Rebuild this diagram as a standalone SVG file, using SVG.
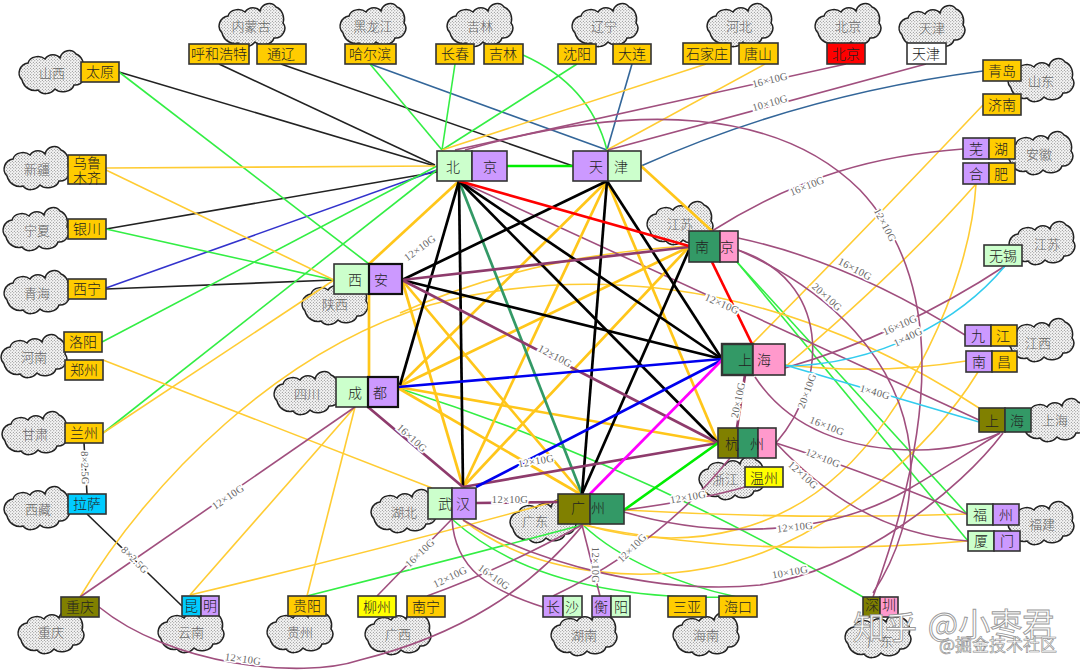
<svg xmlns="http://www.w3.org/2000/svg" xmlns:xlink="http://www.w3.org/1999/xlink" width="1080" height="670" viewBox="0 0 1080 670">
<style>
text{font-family:"Noto Sans CJK SC","Liberation Serif",serif;text-anchor:middle;dominant-baseline:central}
.n text{font-size:14px;fill:#222;font-weight:300}
.r text{font-size:13px;fill:#666;font-weight:300}
.n rect{stroke:#333;stroke-width:1.6}
.or{fill:#FFCC00}.gr{fill:#CCFFCC}.pu{fill:#CC99FF}.dg{fill:#339966}.pk{fill:#FF99CC}.ol{fill:#808000}.cy{fill:#00CCFF}.ye{fill:#FFFF00}.re{fill:#FF0000}.wh{fill:#FFFFFF}
#conn path{fill:none}
.t1{stroke-width:1.6}.t3{stroke-width:2.7}
.k{stroke:#222}.k3{stroke:#000}.g{stroke:#33EE44}.g3{stroke:#00EE00}.o{stroke:#FFCC33}.o3{stroke:#FFC61A}.p{stroke:#A04F7E}.p3{stroke:#8E3B6C}.b{stroke:#3333CC}.b3{stroke:#0000EE}.d{stroke:#336699}.c{stroke:#33CCEE}.tl{stroke:#339966}.rd{stroke:#FF0000}.m{stroke:#FF00FF}
.l text{font-family:"Liberation Serif",serif;font-size:10.5px;fill:#666;stroke:#fff;stroke-width:3;paint-order:stroke;letter-spacing:.3px}
.wm{font-size:32px;fill:#fff;stroke:#999;stroke-width:.9}
.wm2{font-size:17px;fill:#fff;stroke:#888;stroke-width:.6}
</style>
<defs>
<pattern id="dots" width="3" height="3" patternUnits="userSpaceOnUse">
<rect width="3" height="3" fill="#f7f7f7"/><circle cx=".8" cy=".8" r=".5" fill="#666"/><circle cx="2.3" cy="2.3" r=".5" fill="#666"/>
</pattern>
<path id="cloud" d="M-30,8C-36,2 -32,-8 -24,-9C-22,-16 -12,-17 -7,-13C-3,-19 5,-18 8,-14C10,-22 20,-24 24,-18C30,-16 33,-8 31,-2C36,4 30,14 22,13C20,20 8,22 3,17C-2,23 -10,23 -14,18C-20,20 -28,16 -30,8Z" fill="url(#dots)" stroke="#222" stroke-width="1.5"/>
</defs>
<rect width="1080" height="670" fill="#fff"/>

<g id="regions" class="r">
<g id="r-neimenggu"><use href="#cloud" x="252" y="25"/><text x="251" y="25">内蒙古</text></g>
<g id="r-heilongjiang"><use href="#cloud" x="373" y="25"/><text x="373" y="25">黑龙江</text></g>
<g id="r-jilin"><use href="#cloud" x="480" y="25"/><text x="480" y="25">吉林</text></g>
<g id="r-liaoning"><use href="#cloud" x="605" y="25"/><text x="604" y="25">辽宁</text></g>
<g id="r-hebei"><use href="#cloud" x="740" y="25"/><text x="739" y="25">河北</text></g>
<g id="r-beijing"><use href="#cloud" x="848" y="25"/><text x="848" y="25">北京</text></g>
<g id="r-tianjin"><use href="#cloud" x="932" y="27"/><text x="932" y="27">天津</text></g>
<g id="r-shandong"><use href="#cloud" x="1041" y="80"/><text x="1041" y="80">山东</text></g>
<g id="r-anhui"><use href="#cloud" x="1040" y="153"/><text x="1039" y="153">安徽</text></g>
<g id="r-jiangsu2"><use href="#cloud" x="1042" y="243"/><text x="1047" y="243">江苏</text></g>
<g id="r-jiangxi"><use href="#cloud" x="1041" y="340"/><text x="1038" y="342">江西</text></g>
<g id="r-shanghai"><use href="#cloud" x="1054" y="420"/><text x="1055" y="419">上海</text></g>
<g id="r-fujian"><use href="#cloud" x="1041" y="523"/><text x="1042" y="523">福建</text></g>
<g id="r-shanxi"><use href="#cloud" x="52" y="72"/><text x="52" y="72">山西</text></g>
<g id="r-xinjiang"><use href="#cloud" x="37" y="168"/><text x="37" y="168">新疆</text></g>
<g id="r-ningxia"><use href="#cloud" x="36" y="229"/><text x="37" y="229">宁夏</text></g>
<g id="r-qinghai"><use href="#cloud" x="37" y="292"/><text x="37" y="292">青海</text></g>
<g id="r-henan"><use href="#cloud" x="34" y="356"/><text x="34" y="356">河南</text></g>
<g id="r-gansu"><use href="#cloud" x="35" y="433"/><text x="35" y="433">甘肃</text></g>
<g id="r-xizang"><use href="#cloud" x="37" y="508"/><text x="38" y="508">西藏</text></g>
<g id="r-chongqing"><use href="#cloud" x="51" y="632"/><text x="51" y="631">重庆</text></g>
<g id="r-yunnan"><use href="#cloud" x="191" y="631"/><text x="191" y="631">云南</text></g>
<g id="r-guizhou"><use href="#cloud" x="300" y="631"/><text x="300" y="631">贵州</text></g>
<g id="r-guangxi"><use href="#cloud" x="398" y="633"/><text x="398" y="633">广西</text></g>
<g id="r-hunan"><use href="#cloud" x="584" y="634"/><text x="584" y="634">湖南</text></g>
<g id="r-hainan"><use href="#cloud" x="706" y="634"/><text x="706" y="634">海南</text></g>
<g id="r-hubei"><use href="#cloud" x="404" y="511"/><text x="404" y="511">湖北</text></g>
<g id="r-guangdong"><use href="#cloud" x="543" y="521"/><text x="535" y="520">广东</text></g>
<g id="r-sichuan"><use href="#cloud" x="307" y="393"/><text x="307" y="393">四川</text></g>
<g id="r-shaanxi"><use href="#cloud" x="335" y="303"/><text x="335" y="303">陕西</text></g>
<g id="r-jiangsu"><use href="#cloud" x="680" y="223"/><text x="680" y="223">江苏</text></g>
<g id="r-zhejiang"><use href="#cloud" x="732" y="478"/><text x="725" y="478">浙江</text></g>
<g id="r-guangdong2"><use href="#cloud" x="878" y="636"/><text x="880" y="640">广东</text></g>
</g>

<g id="conn">
<g class="t1">
<path class="k" d="M119,72L435,166"/><path class="k" d="M219,64L435,165"/><path class="k" d="M281,64L573,166"/><path class="k" d="M106,229L437,172"/><path class="k" d="M106,289L334,280"/><path class="k" d="M84,443L87,494"/><path class="k" d="M87,514L182,606"/>
<path class="b" d="M106,288L437,170"/>
<path class="d" d="M370,64L607,150"/><path class="d" d="M632,64L607,150"/><path class="d" d="M983,71Q800,95 641,166"/>
<path class="g" d="M119,72L369,264"/><path class="g" d="M370,64L442,150"/><path class="g" d="M455,64L442,150"/><path class="g" d="M577,64L442,150"/><path class="g" d="M523,55Q590,85 607,150"/><path class="g" d="M106,229L334,280"/><path class="g" d="M102,342L437,166"/><path class="g" d="M103,433L437,170"/>
<path class="g" d="M398,388Q640,465 863,597"/>
<path class="g" d="M307,596Q450,560 582,525"/>
<path class="g" d="M453,520C520,580 620,600 737,597"/>
<path class="g" d="M583,525C620,560 680,585 737,597"/>
<path class="g" d="M737,262L967,514"/><path class="g" d="M737,262L968,541"/>
<path class="o" d="M103,433L334,280"/><path class="o" d="M103,360L432,488"/><path class="o" d="M106,168L435,166"/><path class="o" d="M106,170L334,280"/>
<path class="o" d="M765,64L607,150"/><path class="o" d="M706,64L442,150"/>
<path class="o" d="M983,105Q860,235 752,344"/><path class="o" d="M976,184Q900,270 785,367"/>
<path class="o" d="M966,361Q880,375 785,365"/>
<path class="o" d="M80,597C150,480 280,350 430,305C560,270 760,265 979,408"/>
<path class="o" d="M400,313Q530,255 689,246"/>
<path class="o" d="M976,184C970,290 900,420 840,473C790,520 700,560 582,524"/>
<path class="o" d="M978,372C930,450 830,535 740,560C660,585 540,580 463,520"/>
<path class="o" d="M624,510Q800,520 967,514"/>
<path class="o" d="M583,525C680,545 800,555 968,541"/>
<path class="o" d="M190,595Q380,550 560,500"/><path class="o" d="M190,595L355,407"/><path class="o" d="M307,596L355,407"/>
<path class="p" d="M455,150L846,64"/><path class="p" d="M608,150L926,64"/>
<path class="p" d="M963,149C880,155 800,175 712,231"/>
<path class="p" d="M465,150C640,100 780,110 860,190C935,270 945,400 873,597"/>
<path class="p" d="M738,238Q850,262 965,335"/>
<path class="p" d="M738,250C830,290 900,360 910,450C915,510 895,560 873,593"/>
<path class="p" d="M738,250C830,280 830,380 776,443"/>
<path class="p" d="M459,181L979,420"/>
<path class="p" d="M1005,266Q900,335 785,368"/>
<path class="p" d="M755,377C790,430 850,450 917,450C950,450 980,442 1000,433"/>
<path class="p" d="M776,443Q860,470 967,514"/>
<path class="p" d="M776,443C820,490 880,535 968,541"/>
<path class="p" d="M624,512C720,540 830,535 907,490C950,465 980,445 1000,433"/>
<path class="p" d="M463,520C540,565 660,595 760,585C860,570 960,490 1003,433"/>
<path class="p" d="M99,607C170,665 300,680 360,660C460,635 530,590 583,525"/>
<path class="p" d="M80,597L355,407"/>
<path class="p" d="M377,596L452,519"/>
<path class="p" d="M427,596Q500,570 582,525"/>
<path class="p" d="M543,607C490,590 455,570 452,519"/>
<path class="p" d="M553,596Q660,545 730,458"/>
<path class="p" d="M624,510Q700,500 745,487"/>
<path class="p" d="M600,596L582,525"/>
<path class="c" d="M1005,266C960,320 880,365 785,366"/><path class="c" d="M785,365L979,422"/>
</g>
<g class="t3">
<path class="g3" d="M507,166L573,166"/>
<path class="o3" d="M459,181L369,264"/><path class="o3" d="M369,294L369,377"/><path class="o3" d="M641,166L712,231"/>
<path class="o3" d="M607,181L400,385"/><path class="o3" d="M607,181L463,487"/><path class="o3" d="M607,181L718,443"/>
<path class="o3" d="M402,280L463,487"/><path class="o3" d="M402,280L582,494"/>
<path class="o3" d="M398,387L689,247"/><path class="o3" d="M398,387L718,443"/><path class="o3" d="M398,388L580,494"/><path class="o3" d="M463,487L689,247"/>
<path class="tl" d="M459,181L582,494"/>
<path class="k3" d="M459,181L463,487"/><path class="k3" d="M459,181L400,385"/><path class="k3" d="M459,181L722,359"/><path class="k3" d="M459,181L718,443"/>
<path class="k3" d="M607,181L402,280"/><path class="k3" d="M607,181L582,494"/><path class="k3" d="M607,181L722,359"/><path class="k3" d="M402,280L722,359"/><path class="k3" d="M689,250L582,494"/>
<path class="p3" d="M402,280L689,247"/><path class="p3" d="M402,280L718,443"/><path class="p3" d="M463,487L718,443"/><path class="p3" d="M368,407L463,487"/><path class="p3" d="M476,503L558,502"/><path class="p3" d="M745,375L737,428"/>
<path class="rd" d="M459,181L689,246"/><path class="rd" d="M712,262L752,344"/>
<path class="b3" d="M398,387L722,359"/><path class="b3" d="M476,487L722,360"/>
<path class="m" d="M590,494L722,360"/>
<path class="g3" d="M624,510L718,443"/>
</g>
<g class="l">
<text transform="translate(770,80) rotate(-14)">16×10G</text>
<text transform="translate(770,103) rotate(-16)">10×10G</text>
<text transform="translate(807,186) rotate(-22)">16×10G</text>
<text transform="translate(885,225) rotate(62)">12×10G</text>
<text transform="translate(855,269) rotate(28)">16×10G</text>
<text transform="translate(827,297) rotate(42)">20×10G</text>
<text transform="translate(900,325) rotate(-24)">16×10G</text>
<text transform="translate(908,337) rotate(-26)">1×40G</text>
<text transform="translate(875,392) rotate(16)">1×40G</text>
<text transform="translate(807,391) rotate(-70)">20×10G</text>
<text transform="translate(827,426) rotate(22)">16×10G</text>
<text transform="translate(722,304) rotate(24)">12×10G</text>
<text transform="translate(420,248) rotate(-36)">12×10G</text>
<text transform="translate(555,356) rotate(28)">12×10G</text>
<text transform="translate(738,400) rotate(-78)">20×10G</text>
<text transform="translate(412,438) rotate(42)">16×10G</text>
<text transform="translate(536,461) rotate(-10)">12×10G</text>
<text transform="translate(510,499)">12×10G</text>
<text transform="translate(823,458) rotate(22)">12×10G</text>
<text transform="translate(803,475) rotate(42)">12×10G</text>
<text transform="translate(795,527) rotate(-6)">12×10G</text>
<text transform="translate(790,572) rotate(-10)">10×10G</text>
<text transform="translate(688,497) rotate(-10)">12×10G</text>
<text transform="translate(632,548) rotate(-45)">12×10G</text>
<text transform="translate(595,565) rotate(90)">12×10G</text>
<text transform="translate(494,577) rotate(36)">16×10G</text>
<text transform="translate(450,577) rotate(-26)">12×10G</text>
<text transform="translate(420,553) rotate(-44)">16×10G</text>
<text transform="translate(228,497) rotate(-34)">12×10G</text>
<text transform="translate(243,659) rotate(8)">12×10G</text>
<text transform="translate(85,468) rotate(88)">8×2.5G</text>
<text transform="translate(135,560) rotate(45)">8×2.5G</text>
</g>
</g>

<g id="nodes" class="n">
<g id="taiyuan"><rect class="or" x="81" y="62" width="38" height="20"/><text x="100" y="71">太原</text></g>
<g id="huhehaote"><rect class="or" x="189" y="44" width="60" height="20"/><text x="219" y="53">呼和浩特</text></g>
<g id="tongliao"><rect class="or" x="257" y="44" width="49" height="20"/><text x="281" y="53">通辽</text></g>
<g id="haerbin"><rect class="or" x="345" y="44" width="51" height="20"/><text x="370" y="53">哈尔滨</text></g>
<g id="changchun"><rect class="or" x="436" y="44" width="38" height="20"/><text x="455" y="53">长春</text></g>
<g id="jilin"><rect class="or" x="484" y="44" width="39" height="20"/><text x="503" y="53">吉林</text></g>
<g id="shenyang"><rect class="or" x="558" y="44" width="38" height="20"/><text x="577" y="53">沈阳</text></g>
<g id="dalian"><rect class="or" x="613" y="44" width="38" height="20"/><text x="632" y="53">大连</text></g>
<g id="shijiazhuang"><rect class="or" x="683" y="43" width="48" height="21"/><text x="707" y="53">石家庄</text></g>
<g id="tangshan"><rect class="or" x="739" y="43" width="39" height="21"/><text x="758" y="53">唐山</text></g>
<g id="beijing-node"><rect class="re" x="827" y="43" width="38" height="21"/><text x="846" y="53">北京</text></g>
<g id="tianjin-node"><rect class="wh" x="907" y="43" width="39" height="21"/><text x="926" y="53">天津</text></g>
<g id="qingdao"><rect class="or" x="983" y="60" width="38" height="21"/><text x="1002" y="70">青岛</text></g>
<g id="jinan"><rect class="or" x="983" y="94" width="38" height="21"/><text x="1002" y="104">济南</text></g>
<g id="wuhu"><rect class="pu" x="963" y="138" width="26" height="21"/><rect class="or" x="989" y="138" width="26" height="21"/><text x="976" y="148">芜</text><text x="1001" y="148">湖</text></g>
<g id="hefei"><rect class="pu" x="963" y="163" width="26" height="21"/><rect class="or" x="989" y="163" width="26" height="21"/><text x="976" y="173">合</text><text x="1001" y="173">肥</text></g>
<g id="wuxi"><rect class="gr" x="984" y="245" width="38" height="21"/><text x="1003" y="255">无锡</text></g>
<g id="jiujiang"><rect class="pu" x="965" y="325" width="26" height="21"/><rect class="or" x="991" y="325" width="26" height="21"/><text x="978" y="335">九</text><text x="1003" y="335">江</text></g>
<g id="nanchang"><rect class="pu" x="966" y="351" width="26" height="21"/><rect class="or" x="992" y="351" width="25" height="21"/><text x="979" y="361">南</text><text x="1004" y="361">昌</text></g>
<g id="shanghai-r"><rect class="ol" x="979" y="408" width="26" height="24"/><rect class="dg" x="1005" y="408" width="26" height="24"/><text x="992" y="420">上</text><text x="1017" y="420">海</text></g>
<g id="fuzhou"><rect class="gr" x="967" y="504" width="26" height="21"/><rect class="pu" x="993" y="504" width="26" height="21"/><text x="980" y="514">福</text><text x="1006" y="514">州</text></g>
<g id="xiamen"><rect class="gr" x="968" y="531" width="26" height="20"/><rect class="pu" x="994" y="531" width="26" height="20"/><text x="981" y="540">厦</text><text x="1007" y="540">门</text></g>
<g id="wenzhou"><rect class="ye" x="745" y="467" width="38" height="20"/><text x="764" y="477">温州</text></g>
<g id="shenzhen"><rect class="ol" x="863" y="597" width="17" height="20"/><rect class="pk" x="880" y="597" width="18" height="20"/><text x="872" y="604">深</text><text x="889" y="604">圳</text></g>
<g id="urumqi"><rect class="or" x="68" y="155" width="38" height="29"/><text x="87" y="162">乌鲁</text><text x="87" y="177">木齐</text></g>
<g id="yinchuan"><rect class="or" x="68" y="219" width="38" height="20"/><text x="87" y="228">银川</text></g>
<g id="xining"><rect class="or" x="68" y="279" width="38" height="20"/><text x="87" y="288">西宁</text></g>
<g id="luoyang"><rect class="or" x="64" y="332" width="38" height="20"/><text x="83" y="341">洛阳</text></g>
<g id="zhengzhou"><rect class="or" x="65" y="360" width="38" height="20"/><text x="84" y="369">郑州</text></g>
<g id="lanzhou"><rect class="or" x="65" y="423" width="38" height="20"/><text x="84" y="432">兰州</text></g>
<g id="lasa"><rect class="cy" x="68" y="494" width="38" height="20"/><text x="87" y="503">拉萨</text></g>
<g id="chongqing"><rect class="ol" x="61" y="597" width="38" height="20"/><text x="80" y="606">重庆</text></g>
<g id="kunming"><rect class="cy" x="182" y="596" width="19" height="20"/><rect class="pu" x="201" y="596" width="18" height="20"/><text x="191" y="605">昆</text><text x="210" y="605">明</text></g>
<g id="guiyang"><rect class="or" x="288" y="596" width="38" height="20"/><text x="307" y="605">贵阳</text></g>
<g id="liuzhou"><rect class="ye" x="358" y="596" width="38" height="21"/><text x="377" y="606">柳州</text></g>
<g id="nanning"><rect class="or" x="407" y="596" width="38" height="21"/><text x="426" y="606">南宁</text></g>
<g id="changsha"><rect class="pu" x="543" y="596" width="20" height="21"/><rect class="gr" x="563" y="596" width="19" height="21"/><text x="553" y="606">长</text><text x="572" y="606">沙</text></g>
<g id="hengyang"><rect class="pu" x="592" y="596" width="19" height="21"/><rect class="gr" x="611" y="596" width="19" height="21"/><text x="601" y="606">衡</text><text x="621" y="606">阳</text></g>
<g id="sanya"><rect class="or" x="668" y="596" width="38" height="21"/><text x="687" y="606">三亚</text></g>
<g id="haikou"><rect class="or" x="719" y="596" width="38" height="21"/><text x="738" y="606">海口</text></g>

<g id="beijing-hub"><rect class="gr" x="437" y="151" width="35" height="30"/><rect class="pu" x="472" y="151" width="35" height="30"/><text x="453" y="166">北</text><text x="490" y="166">京</text></g>
<g id="tianjin-hub"><rect class="pu" x="573" y="151" width="35" height="30"/><rect class="gr" x="608" y="151" width="33" height="30"/><text x="596" y="166">天</text><text x="621" y="166">津</text></g>
<g id="nanjing-hub"><rect class="dg" x="689" y="231" width="31" height="31"/><rect class="pk" x="720" y="231" width="18" height="31"/><text x="702" y="246">南</text><text x="727" y="246">京</text></g>
<g id="shanghai-hub"><rect class="dg" x="722" y="344" width="31" height="31" style="stroke-width:2.4"/><rect class="pk" x="753" y="344" width="32" height="31"/><text x="745" y="359">上</text><text x="764" y="359">海</text></g>
<g id="hangzhou-hub"><rect class="ol" x="718" y="428" width="20" height="30"/><rect class="dg" x="738" y="428" width="20" height="30"/><rect class="pk" x="758" y="428" width="18" height="30"/><text x="732" y="443">杭</text><text x="757" y="443">州</text></g>
<g id="xian-hub"><rect class="gr" x="334" y="264" width="35" height="30"/><rect class="pu" x="369" y="264" width="33" height="30" style="stroke-width:2.2;stroke:#111"/><text x="355" y="279">西</text><text x="381" y="279">安</text></g>
<g id="chengdu-hub"><rect class="gr" x="336" y="377" width="32" height="30"/><rect class="pu" x="368" y="377" width="30" height="30" style="stroke-width:2.2;stroke:#111"/><text x="355" y="392">成</text><text x="380" y="392">都</text></g>
<g id="wuhan-hub"><rect class="gr" x="428" y="488" width="24" height="31"/><rect class="pu" x="452" y="488" width="24" height="31"/><text x="445" y="503">武</text><text x="463" y="503">汉</text></g>
<g id="guangzhou-hub"><rect class="ol" x="558" y="494" width="32" height="30"/><rect class="dg" x="590" y="494" width="34" height="30"/><text x="578" y="507">广</text><text x="598" y="507">州</text></g>
</g>

<g id="watermark">
<text class="wm" x="885" y="625">知乎</text>
<text class="wm" x="991" y="622">@小枣君</text>
<text class="wm2" x="998" y="643">@掘金技术社区</text>
</g>
</svg>
